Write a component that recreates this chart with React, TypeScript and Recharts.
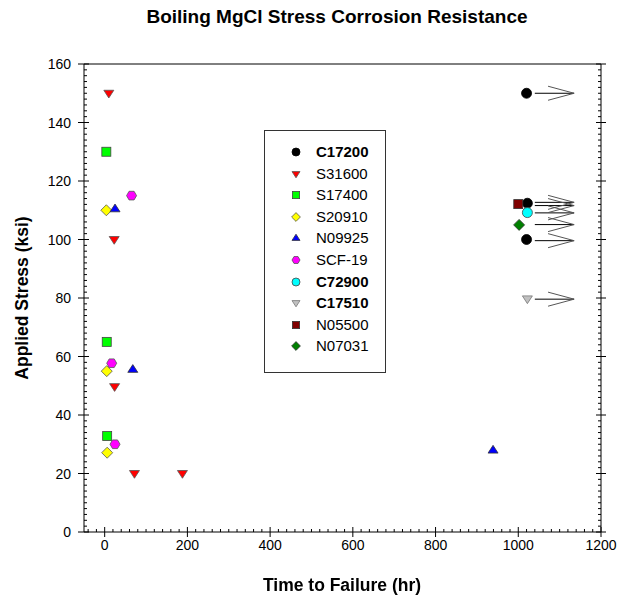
import React from 'react'
import { ScatterChart, Scatter, XAxis, YAxis, ReferenceLine, Legend } from 'recharts'

const FONT = 'Arial, "Liberation Sans", sans-serif'

// time to failure (hr) vs applied stress (ksi), one list per alloy
const c17200 = [
    { x: 1020, y: 150 },
    { x: 1022, y: 112.4 },
    { x: 1020, y: 100 },
]
const s31600 = [
    { x: 10, y: 150 },
    { x: 23, y: 100 },
    { x: 24, y: 49.7 },
    { x: 72, y: 20 },
    { x: 188, y: 20 },
]
const s17400 = [
    { x: 4, y: 130 },
    { x: 5, y: 65 },
    { x: 6, y: 32.8 },
]
const s20910 = [
    { x: 4, y: 110 },
    { x: 5, y: 55 },
    { x: 6, y: 27.1 },
]
const n09925 = [
    { x: 25, y: 110.5 },
    { x: 68, y: 55.6 },
    { x: 939, y: 28 },
]
const scf19 = [
    { x: 65, y: 115 },
    { x: 17, y: 57.7 },
    { x: 25, y: 30 },
]
const c72900 = [{ x: 1022, y: 109.2 }]
const c17510 = [{ x: 1022, y: 79.7 }]
const n05500 = [{ x: 1000, y: 112.1 }]
const n07031 = [{ x: 1002, y: 105 }]

// run-outs (no failure) drawn as arrows to the right
const runoutStress = [150, 112.7, 111.6, 109.1, 105.1, 99.6, 79.6]
const runoutFrom = 1040
const runoutTo = 1135

const xMajor = [0, 200, 400, 600, 800, 1000, 1200]
const yMajor = [0, 20, 40, 60, 80, 100, 120, 140, 160]

const xTicks: number[] = []
for (let v = -40; v <= 1200; v += 20) xTicks.push(v)
const yTicks: number[] = []
for (let v = 0; v <= 160; v += 2) yTicks.push(v)

type Kind = 'circle' | 'triDown' | 'triUp' | 'square' | 'diamond' | 'hexagon'

const series: { name: string; data: { x: number; y: number }[]; kind: Kind; fill: string; stroke: string; bold?: boolean }[] = [
    { name: 'C17200', data: c17200, kind: 'circle', fill: '#000000', stroke: '#000', bold: true },
    { name: 'S31600', data: s31600, kind: 'triDown', fill: '#ff0000', stroke: '#555' },
    { name: 'S17400', data: s17400, kind: 'square', fill: '#00ff00', stroke: '#444' },
    { name: 'S20910', data: s20910, kind: 'diamond', fill: '#ffff00', stroke: '#555' },
    { name: 'N09925', data: n09925, kind: 'triUp', fill: '#0000ff', stroke: '#333' },
    { name: 'SCF-19', data: scf19, kind: 'hexagon', fill: '#ff00ff', stroke: '#555' },
    { name: 'C72900', data: c72900, kind: 'circle', fill: '#00ffff', stroke: '#444', bold: true },
    { name: 'C17510', data: c17510, kind: 'triDown', fill: '#c0c0c0', stroke: '#777', bold: true },
    { name: 'N05500', data: n05500, kind: 'square', fill: '#800000', stroke: '#333' },
    { name: 'N07031', data: n07031, kind: 'diamond', fill: '#008000', stroke: '#333' },
]

function Marker({ kind, cx, cy, fill, stroke, s }: { kind: Kind; cx: number; cy: number; fill: string; stroke: string; s: number }) {
    const common = { fill, stroke, strokeWidth: 0.8 }
    const h = s / 2
    switch (kind) {
        case 'circle':
            return <circle cx={cx} cy={cy} r={h} {...common} />
        case 'square':
            return <rect x={cx - h * 0.9} y={cy - h * 0.9} width={s * 0.9} height={s * 0.9} {...common} />
        case 'diamond':
            return <polygon points={`${cx},${cy - h * 1.1} ${cx + h * 1.1},${cy} ${cx},${cy + h * 1.1} ${cx - h * 1.1},${cy}`} {...common} />
        case 'triUp':
            return <polygon points={`${cx},${cy - h * 0.95} ${cx + h},${cy + h * 0.6} ${cx - h},${cy + h * 0.6}`} {...common} />
        case 'triDown':
            return <polygon points={`${cx - h},${cy - h * 0.6} ${cx + h},${cy - h * 0.6} ${cx},${cy + h * 0.95}`} {...common} />
        case 'hexagon': {
            const pts = [0, 1, 2, 3, 4, 5]
                .map((i) => {
                    const a = (Math.PI / 3) * i
                    return `${cx + h * Math.cos(a)},${cy + h * Math.sin(a)}`
                })
                .join(' ')
            return <polygon points={pts} {...common} />
        }
    }
    return null
}

const tickText = { fontFamily: FONT, fontSize: 14, fill: '#000' }

const BottomTick = ({ x, y, payload }: any) => {
    const major = payload.value % 200 === 0
    return (
        <g>
            <line x1={x} x2={x} y1={y - (major ? 5 : 3)} y2={y + (major ? 5 : 0)} stroke="#000" />
            {major && (
                <text x={x} y={y + 18} textAnchor="middle" {...tickText}>
                    {payload.value}
                </text>
            )}
        </g>
    )
}

const TopTick = ({ x, y, payload }: any) => {
    const major = payload.value % 200 === 0
    return <line x1={x} x2={x} y1={y - (major ? 4 : 0)} y2={y + (major ? 5 : 3)} stroke="#000" />
}

const LeftTick = ({ x, y, payload }: any) => {
    const major = payload.value % 20 === 0
    return (
        <g>
            <line x1={x - (major ? 6 : 0)} x2={x + (major ? 5 : 3)} y1={y} y2={y} stroke="#000" />
            {major && (
                <text x={x - 13} y={y + 5} textAnchor="end" {...tickText}>
                    {payload.value}
                </text>
            )}
        </g>
    )
}

const RightTick = ({ x, y, payload }: any) => {
    const major = payload.value % 20 === 0
    return <line x1={x - (major ? 5 : 3)} x2={x + (major ? 5 : 0)} y1={y} y2={y} stroke="#000" />
}

function LegendBox() {
    return (
        <div
            style={{
                width: 120,
                height: 241,
                border: '1px solid #333',
                background: '#fff',
                position: 'relative',
                fontFamily: FONT,
            }}
        >
            {series.map((s, i) => (
                <div key={s.name} style={{ position: 'absolute', left: 0, top: 21 + i * 21.6 - 10, height: 20, display: 'flex', alignItems: 'center' }}>
                    <svg width={60} height={20} style={{ position: 'absolute', left: 0, top: 0 }}>
                        <Marker kind={s.kind} cx={31} cy={10} fill={s.fill} stroke={s.stroke} s={8} />
                    </svg>
                    <span style={{ position: 'absolute', left: 51, top: 1, fontSize: 15, fontWeight: s.bold ? 'bold' : 'normal', color: '#000', whiteSpace: 'nowrap' }}>
                        {s.name}
                    </span>
                </div>
            ))}
        </div>
    )
}

export default function App() {
    return (
        <div style={{ position: 'fixed', left: 0, top: 0, width: 618, height: 595, background: '#fff', fontFamily: FONT }}>
            <div style={{ position: 'absolute', left: 337, top: 6, transform: 'translateX(-50%)', fontSize: 19, fontWeight: 'bold', whiteSpace: 'nowrap' }}>
                Boiling MgCl Stress Corrosion Resistance
            </div>
            <ScatterChart width={618} height={595} margin={{ top: 63, right: 16, bottom: 0, left: 0 }}>
                <XAxis
                    type="number"
                    dataKey="x"
                    domain={[-50, 1200]}
                    ticks={xTicks}
                    interval={0}
                    allowDataOverflow
                    height={63}
                    tickSize={0}
                    tickMargin={0}
                    tickLine={false}
                    axisLine={{ stroke: '#000' }}
                    tick={BottomTick}
                />
                <XAxis
                    xAxisId="top"
                    orientation="top"
                    type="number"
                    domain={[-50, 1200]}
                    ticks={xTicks}
                    interval={0}
                    allowDataOverflow
                    height={1}
                    tickSize={0}
                    tickMargin={0}
                    tickLine={false}
                    axisLine={{ stroke: '#000' }}
                    tick={TopTick}
                />
                <YAxis
                    type="number"
                    dataKey="y"
                    domain={[0, 160]}
                    ticks={yTicks}
                    interval={0}
                    allowDataOverflow
                    width={84}
                    tickSize={0}
                    tickMargin={0}
                    tickLine={false}
                    axisLine={{ stroke: '#000' }}
                    tick={LeftTick}
                />
                <YAxis
                    yAxisId="right"
                    orientation="right"
                    type="number"
                    domain={[0, 160]}
                    ticks={yTicks}
                    interval={0}
                    allowDataOverflow
                    width={1}
                    tickSize={0}
                    tickMargin={0}
                    tickLine={false}
                    axisLine={{ stroke: '#000' }}
                    tick={RightTick}
                />
                {runoutStress.map((v, i) => (
                    <ReferenceLine
                        key={`shaft${i}`}
                        segment={[
                            { x: runoutFrom, y: v },
                            { x: runoutTo, y: v },
                        ]}
                        stroke="#000"
                        strokeWidth={1}
                    />
                ))}
                {runoutStress.map((v, i) => (
                    <ReferenceLine
                        key={`headUp${i}`}
                        segment={[
                            { x: runoutTo - 63, y: v + 2.4 },
                            { x: runoutTo, y: v },
                        ]}
                        stroke="#555"
                        strokeWidth={1}
                    />
                ))}
                {runoutStress.map((v, i) => (
                    <ReferenceLine
                        key={`headDown${i}`}
                        segment={[
                            { x: runoutTo - 63, y: v - 2.4 },
                            { x: runoutTo, y: v },
                        ]}
                        stroke="#555"
                        strokeWidth={1}
                    />
                ))}
                {series.map((s) => (
                    <Scatter
                        key={s.name}
                        name={s.name}
                        data={s.data}
                        isAnimationActive={false}
                        shape={(p: any) => <Marker kind={s.kind} cx={p.cx} cy={p.cy} fill={s.fill} stroke={s.stroke} s={10} />}
                    />
                ))}
                <Legend
                    layout="vertical"
                    align="center"
                    verticalAlign="middle"
                    content={() => <LegendBox />}
                    wrapperStyle={{ left: 264, top: 130, width: 122, height: 243 }}
                />
            </ScatterChart>
            <div style={{ position: 'absolute', left: 342, top: 575, transform: 'translateX(-50%)', fontSize: 17.5, fontWeight: 'bold', whiteSpace: 'nowrap' }}>
                Time to Failure (hr)
            </div>
            <div
                style={{
                    position: 'absolute',
                    left: 22,
                    top: 298,
                    transform: 'translate(-50%, -50%) rotate(-90deg)',
                    fontSize: 17.5,
                    fontWeight: 'bold',
                    whiteSpace: 'nowrap',
                }}
            >
                Applied Stress (ksi)
            </div>
        </div>
    )
}
